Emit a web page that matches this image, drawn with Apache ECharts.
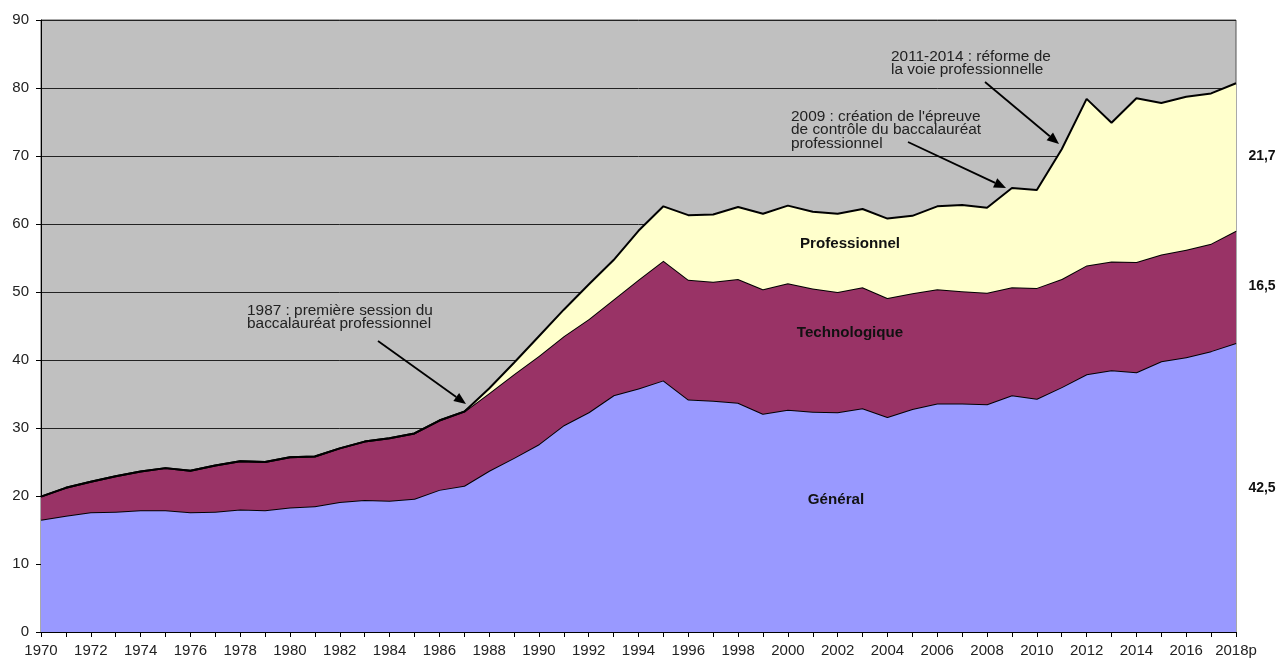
<!DOCTYPE html>
<html>
<head>
<meta charset="utf-8">
<script src="https://cdn.jsdelivr.net/npm/echarts@6/dist/echarts.min.js"></script>
<style>
html,body{margin:0;padding:0;background:#fff;}
#chart{width:1280px;height:659px;}
</style>
</head>
<body>
<div id="chart"></div>
<script>
const years = ['1970','1971','1972','1973','1974','1975','1976','1977','1978','1979',
  '1980','1981','1982','1983','1984','1985','1986','1987','1988','1989',
  '1990','1991','1992','1993','1994','1995','1996','1997','1998','1999',
  '2000','2001','2002','2003','2004','2005','2006','2007','2008','2009',
  '2010','2011','2012','2013','2014','2015','2016','2017','2018p'];

const general = [16.5,17.1,17.6,17.7,17.9,17.9,17.6,17.7,18.0,17.9,
  18.3,18.5,19.1,19.4,19.3,19.6,20.9,21.5,23.7,25.6,
  27.6,30.4,32.3,34.8,35.8,37.0,34.2,34.0,33.7,32.1,
  32.7,32.4,32.3,32.9,31.6,32.8,33.6,33.6,33.5,34.8,
  34.3,36.0,37.9,38.5,38.2,39.8,40.4,41.3,42.5];

const technologique = [3.4,4.1,4.5,5.2,5.7,6.2,6.1,6.8,7.1,7.1,
  7.4,7.3,7.9,8.6,9.2,9.6,10.2,10.9,11.4,12.3,
  13.0,13.1,13.7,14.1,16.0,17.6,17.6,17.5,18.2,18.3,
  18.6,18.1,17.7,17.8,17.5,17.0,16.8,16.5,16.4,15.9,
  16.3,15.9,16.0,16.0,16.2,15.7,15.8,15.8,16.5];

const professionnel = [0,0,0,0,0,0,0,0,0,0,
  0,0,0,0,0,0,0,0,0.7,1.7,
  2.9,3.9,5.1,5.8,7.2,8.0,9.5,9.9,10.6,11.1,
  11.4,11.3,11.5,11.5,11.7,11.4,12.2,12.7,12.5,14.6,
  14.4,19.1,24.5,20.4,24.1,22.3,22.5,22.1,21.7];

const seriesNames = ['Général','Technologique','Professionnel'];
const yTicks = {min:0, max:90, interval:10};

const notes = [
  {text:'1987 : première session du\nbaccalauréat professionnel', x:247, y:304, from:[378,341], to:[466,404]},
  {text:"2009 : création de l'épreuve\nde contrôle du baccalauréat\nprofessionnel", x:791, y:110, from:[908,142], to:[1006,188]},
  {text:'2011-2014 : réforme de\nla voie professionnelle', x:891, y:50, from:[985,82], to:[1059,144]}
];

const FONT = 'Arial, "Liberation Sans", sans-serif';
const fmt = v => v.toFixed(1).replace('.', ',');

function arrow(n){
  const [x1,y1] = n.from, [x2,y2] = n.to;
  const a = Math.atan2(y2-y1, x2-x1);
  const L = 12, W = 5;
  const bx = x2 - L*Math.cos(a), by = y2 - L*Math.sin(a);
  const px = -Math.sin(a), py = Math.cos(a);
  return [
    {type:'line', shape:{x1:x1,y1:y1,x2:bx,y2:by}, style:{stroke:'#000', lineWidth:1.8}, z:100},
    {type:'polygon', shape:{points:[[x2,y2],[bx+px*W,by+py*W],[bx-px*W,by-py*W]]}, style:{fill:'#000'}, z:100}
  ];
}

const graphics = [];
notes.forEach(n => {
  graphics.push({type:'text', x:n.x, y:n.y, scaleX:1.1, z:100,
    style:{text:n.text, font:'14px '+FONT, fill:'#222', lineHeight:13.5, verticalAlign:'top'}});
  arrow(n).forEach(g => graphics.push(g));
});
// in-area series labels
[
  {t:seriesNames[2], x:850, y:244},
  {t:seriesNames[1], x:850, y:333},
  {t:seriesNames[0], x:836, y:500}
].forEach(l => graphics.push({type:'text', x:l.x, y:l.y, scaleX:1.08, z:100,
  style:{text:l.t, font:'bold 14px '+FONT, fill:'#111', align:'center', verticalAlign:'middle'}}));
// right-side last values
const last = years.length - 1;
[
  {v:professionnel[last], y:156},
  {v:technologique[last], y:286},
  {v:general[last], y:488}
].forEach(l => graphics.push({type:'text', x:1262, y:l.y, z:100,
  style:{text:fmt(l.v), font:'bold 14px '+FONT, fill:'#111', align:'center', verticalAlign:'middle'}}));

const colors = ['#9999FF','#993366','#FFFFCC'];
const datasets = [general, technologique, professionnel];

const chart = echarts.init(document.getElementById('chart'), null, {renderer:'canvas'});
chart.setOption({
  animation:false,
  backgroundColor:'#fff',
  grid:{left:41, right:44, top:20, bottom:27, show:true, backgroundColor:'#C0C0C0', borderColor:'#555', borderWidth:1},
  xAxis:{
    type:'category', data:years, boundaryGap:false,
    axisLine:{lineStyle:{color:'#000', width:1}},
    axisTick:{interval:0, length:5, lineStyle:{color:'#000'}},
    axisLabel:{interval:1, color:'#222', fontSize:15, fontFamily:FONT, margin:11},
    splitLine:{show:false}
  },
  yAxis:{
    type:'value', min:yTicks.min, max:yTicks.max, interval:yTicks.interval,
    axisLine:{show:true, lineStyle:{color:'#000', width:1}},
    axisTick:{show:true, length:5, lineStyle:{color:'#000'}},
    axisLabel:{color:'#222', fontSize:15, fontFamily:FONT, margin:12},
    splitLine:{lineStyle:{color:'#222', width:1}}
  },
  series: datasets.map((d,i) => ({
    name:seriesNames[i], type:'line', stack:'total', data:d,
    symbol:'none', smooth:false,
    lineStyle:{color:'#000', width:2},
    areaStyle:{color:colors[i], opacity:1},
    z:2+i
  })),
  graphic: graphics
});
</script>
</body>
</html>
